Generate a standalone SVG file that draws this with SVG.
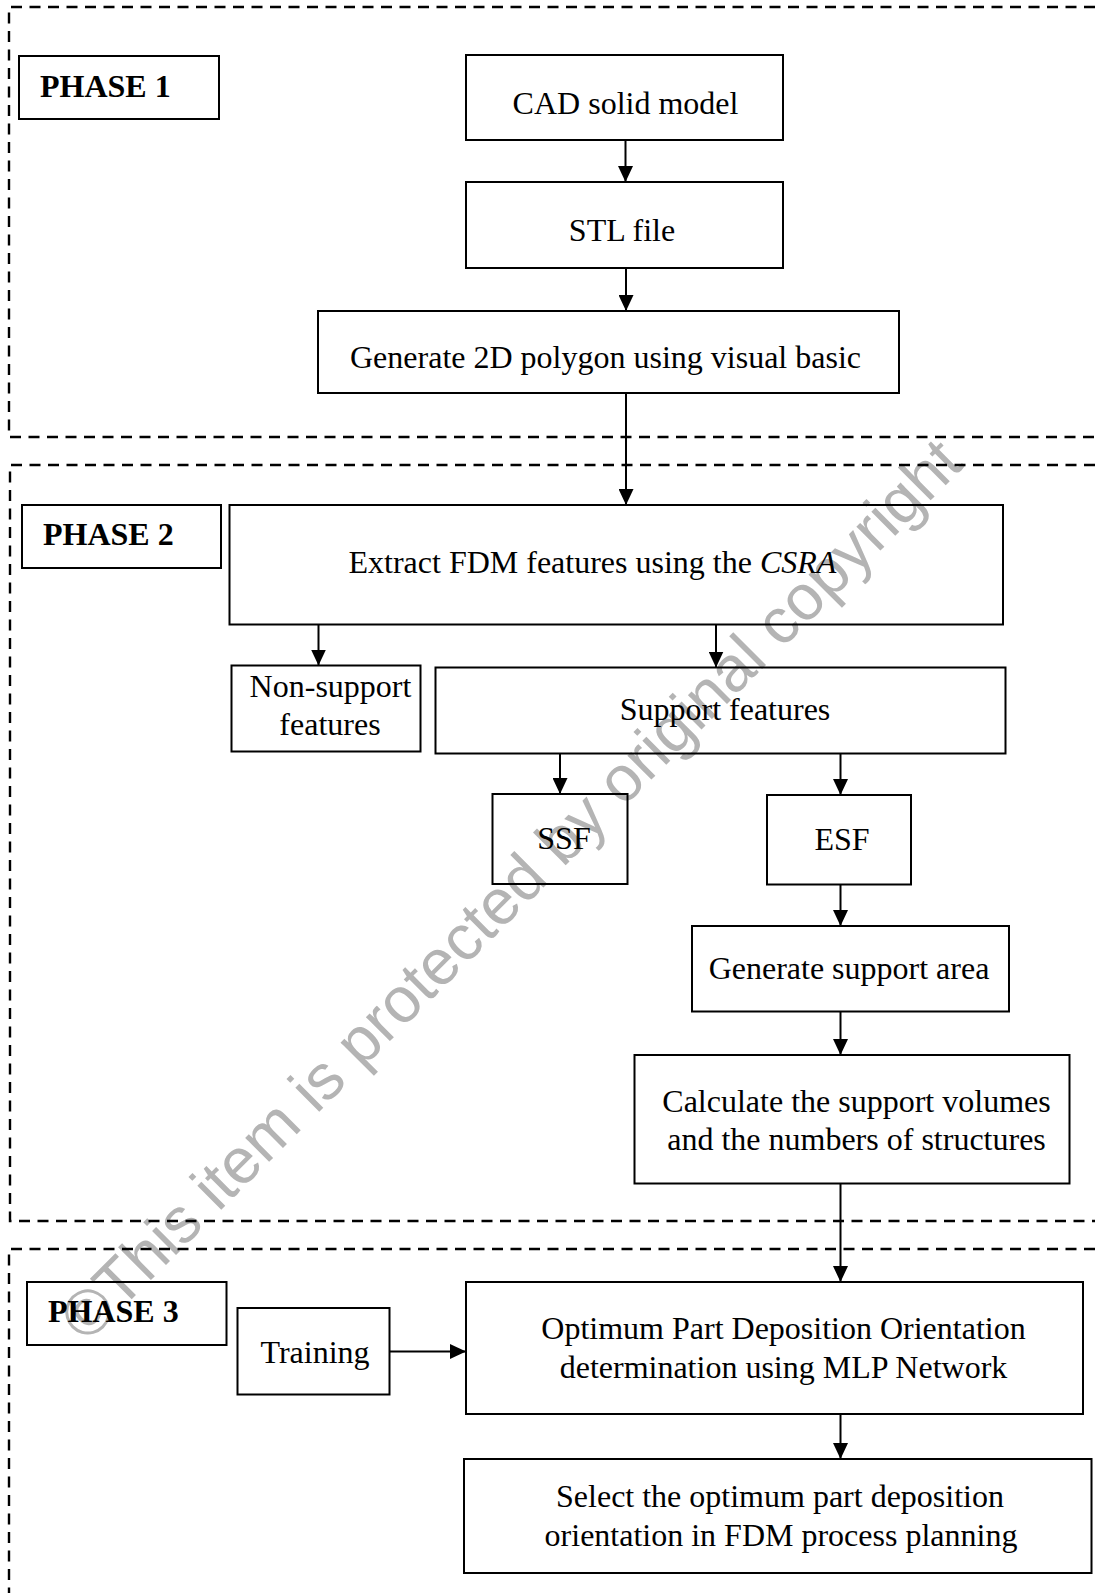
<svg xmlns="http://www.w3.org/2000/svg" width="1095" height="1593" viewBox="0 0 1095 1593">
  <style>
    .box { fill: none; stroke: #000; stroke-width: 2; }
    .phase { fill: none; stroke: #000; stroke-width: 2.4; stroke-dasharray: 11 7.5; }
    .lbl { font-family: "Liberation Serif", "Times New Roman", serif; font-size: 32px; fill: #000; }
    .mid { text-anchor: middle; }
    .bold { font-weight: bold; }
    .conn { fill: none; stroke: #000; stroke-width: 2; marker-end: url(#arrow); }
    .mark { font-family: "Liberation Sans", Arial, sans-serif; font-size: 64px; fill: #b4b4b4; text-anchor: middle; }
  </style>
  <defs>
    <marker id="arrow" markerUnits="userSpaceOnUse" markerWidth="16" markerHeight="15" refX="16" refY="7.5" orient="auto">
      <path d="M0,0 L16,7.5 L0,15 z" fill="#000"/>
    </marker>
  </defs>

  <rect width="1095" height="1593" fill="#fff"/>

  <!-- diagonal notice across the sheet -->
  <text class="mark" transform="translate(526,905) rotate(-45)">©This item is protected by original copyright</text>

  <!-- phase frames (open on the right edge) -->
  <g id="phase-frames">
    <path class="phase" d="M1095,7 H9 V437 H1095"/>
    <path class="phase" d="M1095,465 H10 V1221 H1095"/>
    <path class="phase" d="M1095,1249 H9 V1593"/>
  </g>

  <!-- phase labels -->
  <g id="phase1-label">
    <rect class="box" x="19" y="56" width="200" height="63"/>
    <text class="lbl bold" x="40" y="97">PHASE 1</text>
  </g>
  <g id="phase2-label">
    <rect class="box" x="22" y="505" width="199" height="63"/>
    <text class="lbl bold" x="43" y="545">PHASE 2</text>
  </g>
  <g id="phase3-label">
    <rect class="box" x="27" y="1282" width="199.5" height="63"/>
    <text class="lbl bold" x="48" y="1322">PHASE 3</text>
  </g>

  <!-- phase 1 nodes -->
  <g id="cad-model">
    <rect class="box" x="466" y="55" width="317" height="85"/>
    <text class="lbl mid" x="625.5" y="114">CAD solid model</text>
  </g>
  <g id="stl-file">
    <rect class="box" x="466" y="182" width="317" height="86"/>
    <text class="lbl mid" x="622" y="241">STL file</text>
  </g>
  <g id="gen-polygon">
    <rect class="box" x="318" y="311" width="581" height="82"/>
    <text class="lbl mid" x="605.5" y="368">Generate 2D polygon using visual basic</text>
  </g>

  <!-- phase 2 nodes -->
  <g id="extract-features">
    <rect class="box" x="229.5" y="505" width="773.5" height="119.5"/>
    <text class="lbl" x="348.5" y="573">Extract FDM features using the <tspan font-style="italic">CSRA</tspan></text>
  </g>
  <g id="non-support">
    <rect class="box" x="231.5" y="665.5" width="189" height="86"/>
    <text class="lbl mid" x="330.5" y="697">Non-support</text>
    <text class="lbl mid" x="330" y="735">features</text>
  </g>
  <g id="support-features">
    <rect class="box" x="435.5" y="667.5" width="570" height="86"/>
    <text class="lbl mid" x="725" y="720">Support features</text>
  </g>
  <g id="ssf">
    <rect class="box" x="492.5" y="794" width="135" height="90"/>
    <text class="lbl mid" x="564" y="849">SSF</text>
  </g>
  <g id="esf">
    <rect class="box" x="767" y="795" width="144" height="89.5"/>
    <text class="lbl mid" x="842" y="850">ESF</text>
  </g>
  <g id="gen-support-area">
    <rect class="box" x="692" y="926" width="317" height="85.5"/>
    <text class="lbl mid" x="849" y="979">Generate support area</text>
  </g>
  <g id="calc-support">
    <rect class="box" x="634.5" y="1055" width="435" height="128.5"/>
    <text class="lbl mid" x="856.5" y="1112">Calculate the support volumes</text>
    <text class="lbl mid" x="856.5" y="1150">and the numbers of structures</text>
  </g>

  <!-- phase 3 nodes -->
  <g id="training">
    <rect class="box" x="237.5" y="1308" width="152" height="86.5"/>
    <text class="lbl mid" x="315" y="1363">Training</text>
  </g>
  <g id="optimum-orientation">
    <rect class="box" x="466" y="1282" width="617" height="132"/>
    <text class="lbl mid" x="783.5" y="1339">Optimum Part Deposition Orientation</text>
    <text class="lbl mid" x="783.5" y="1378">determination using MLP Network</text>
  </g>
  <g id="select-orientation">
    <rect class="box" x="464" y="1459" width="627.5" height="114"/>
    <text class="lbl mid" x="780" y="1507">Select the optimum part deposition</text>
    <text class="lbl mid" x="781" y="1546">orientation in FDM process planning</text>
  </g>

  <!-- connectors -->
  <g id="connectors">
    <line class="conn" x1="625.5" y1="140" x2="625.5" y2="182"/>
    <line class="conn" x1="626" y1="268" x2="626" y2="311"/>
    <line class="conn" x1="626" y1="393" x2="626" y2="505"/>
    <line class="conn" x1="318.5" y1="624.5" x2="318.5" y2="665.5"/>
    <line class="conn" x1="716" y1="624.5" x2="716" y2="667.5"/>
    <line class="conn" x1="560" y1="753.5" x2="560" y2="794"/>
    <line class="conn" x1="840.5" y1="753.5" x2="840.5" y2="795"/>
    <line class="conn" x1="840.5" y1="884.5" x2="840.5" y2="926"/>
    <line class="conn" x1="840.5" y1="1011.5" x2="840.5" y2="1055"/>
    <line class="conn" x1="840.5" y1="1183.5" x2="840.5" y2="1282"/>
    <line class="conn" x1="389.5" y1="1351.5" x2="466" y2="1351.5"/>
    <line class="conn" x1="840.5" y1="1414" x2="840.5" y2="1459"/>
  </g>
</svg>
